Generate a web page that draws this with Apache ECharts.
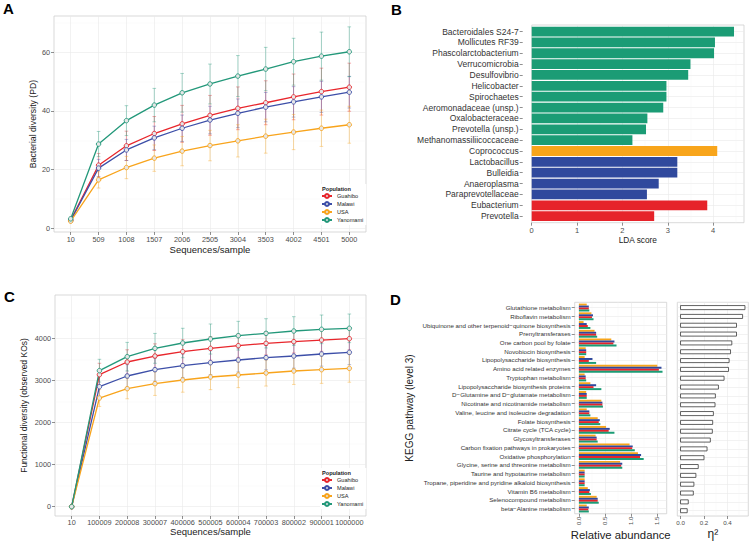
<!DOCTYPE html>
<html>
<head>
<meta charset="utf-8">
<script src="https://cdn.jsdelivr.net/npm/echarts@6/dist/echarts.min.js"></script>
<style>
  html, body { margin: 0; padding: 0; background: #fff; }
  #chart { width: 750px; height: 541px; }
</style>
</head>
<body>
<div id="chart"></div>
<script>
// ---- shared ----
const populations = ['Guahibo', 'Malawi', 'USA', 'Yanomami']
const lineColors = ['#e8262c', '#3d4fa8', '#f8a41c', '#23987a']
const barColors = { Guahibo: '#e6232a', Malawi: '#30499d', USA: '#f8a51b', Yanomami: '#1b9c75' }

// ---- A: phylogenetic diversity rarefaction ----
const seqA = ['10', '509', '1008', '1507', '2006', '2505', '3004', '3503', '4002', '4501', '5000']
const pdTicks = [0, 20, 40, 60]
const pdGuahibo = [2.8, 21.5, 28.1, 32.3, 35.6, 38.5, 40.9, 42.8, 44.8, 46.6, 48.1]
const pdMalawi = [2.6, 20.5, 26.7, 30.8, 34.1, 36.9, 39.2, 41.3, 43.1, 44.8, 46.4]
const pdUSA = [2.4, 16.5, 20.7, 23.9, 26.3, 28.2, 29.8, 31.4, 32.8, 34.1, 35.3]
const pdYanomami = [3.2, 28.7, 36.7, 42.0, 46.2, 49.2, 51.9, 54.3, 56.8, 58.7, 60.2]
const pdGuahiboSd = [0.4, 4.0, 5.0, 5.8, 6.3, 6.8, 7.3, 7.5, 7.8, 8.0, 8.2]
const pdMalawiSd = [0.4, 3.0, 3.6, 4.0, 4.5, 4.7, 4.9, 5.0, 5.2, 5.3, 5.4]
const pdUSASd = [0.4, 2.8, 3.8, 4.5, 5.0, 5.2, 5.5, 5.8, 6.0, 6.2, 6.3]
const pdYanomamiSd = [0.5, 4.3, 5.1, 5.7, 6.6, 6.8, 7.0, 7.4, 8.0, 8.2, 8.5]

// ---- B: LEfSe LDA scores ----
const ldaTaxa = ['Bacteroidales S24-7', 'Mollicutes RF39', 'Phascolarctobacterium', 'Verrucomicrobia',
  'Desulfovibrio', 'Helicobacter', 'Spirochaetes', 'Aeromonadaceae (unsp.)', 'Oxalobacteraceae',
  'Prevotella (unsp.)', 'Methanomassiliicoccaceae', 'Coprococcus', 'Lactobacillus', 'Bulleidia',
  'Anaeroplasma', 'Paraprevotellaceae', 'Eubacterium', 'Prevotella']
const ldaScores = [4.46, 4.04, 4.02, 3.50, 3.45, 2.97, 2.97, 2.90, 2.55, 2.52, 2.22, 4.09, 3.21, 3.21, 2.80, 2.54, 3.87, 2.70]
const ldaGroup = ['Yanomami', 'Yanomami', 'Yanomami', 'Yanomami', 'Yanomami', 'Yanomami', 'Yanomami',
  'Yanomami', 'Yanomami', 'Yanomami', 'Yanomami', 'USA', 'Malawi', 'Malawi', 'Malawi', 'Malawi',
  'Guahibo', 'Guahibo']
const ldaTicks = [0, 1, 2, 3, 4]

// ---- C: functional diversity rarefaction ----
const seqC = ['10', '100009', '200008', '300007', '400006', '500005', '600004', '700003', '800002', '900001', '1000000']
const koTicks = [0, 1000, 2000, 3000, 4000]
const koGuahibo = [0, 3137, 3438, 3580, 3683, 3762, 3826, 3881, 3921, 3960, 3992]
const koMalawi = [0, 2851, 3105, 3255, 3350, 3422, 3485, 3541, 3580, 3628, 3667]
const koUSA = [0, 2582, 2804, 2923, 3010, 3081, 3129, 3176, 3224, 3255, 3287]
const koYanomami = [0, 3232, 3564, 3762, 3889, 3984, 4063, 4119, 4174, 4214, 4238]
const koGuahiboSd = [0, 270, 290, 290, 285, 280, 278, 275, 270, 268, 265]
const koMalawiSd = [0, 250, 270, 275, 280, 285, 285, 288, 290, 290, 292]
const koUSASd = [0, 200, 240, 280, 290, 300, 300, 310, 320, 325, 330]
const koYanomamiSd = [0, 270, 340, 355, 350, 357, 341, 348, 341, 340, 340]

// ---- D: KEGG pathways ----
const keggPathways = ['Glutathione metabolism', 'Riboflavin metabolism',
  'Ubiquinone and other terpenoid\u2212quinone biosynthesis', 'Prenyltransferases',
  'One carbon pool by folate', 'Novobiocin biosynthesis', 'Lipopolysaccharide biosynthesis',
  'Amino acid related enzymes', 'Tryptophan metabolism', 'Lipopolysaccharide biosynthesis proteins',
  'D\u2212Glutamine and D\u2212glutamate metabolism', 'Nicotinate and nicotinamide metabolism',
  'Valine, leucine and isoleucine degradation', 'Folate biosynthesis', 'Citrate cycle (TCA cycle)',
  'Glycosyltransferases', 'Carbon fixation pathways in prokaryotes', 'Oxidative phosphorylation',
  'Glycine, serine and threonine metabolism', 'Taurine and hypotaurine metabolism',
  'Tropane, piperidine and pyridine alkaloid biosynthesis', 'Vitamin B6 metabolism',
  'Selenocompound metabolism', 'beta\u2212Alanine metabolism']
const abundUSA = [0.15, 0.24, 0.09, 0.30, 0.62, 0.13, 0.11, 1.50, 0.11, 0.22, 0.14, 0.43, 0.15, 0.36, 0.52, 0.32, 0.97, 1.13, 0.79, 0.11, 0.11, 0.17, 0.34, 0.15]
const abundMalawi = [0.19, 0.27, 0.15, 0.33, 0.68, 0.14, 0.26, 1.58, 0.13, 0.33, 0.15, 0.45, 0.20, 0.40, 0.59, 0.34, 1.03, 1.19, 0.83, 0.11, 0.11, 0.21, 0.36, 0.19]
const abundGuahibo = [0.19, 0.25, 0.17, 0.33, 0.66, 0.14, 0.19, 1.53, 0.13, 0.28, 0.15, 0.45, 0.20, 0.38, 0.57, 0.34, 1.02, 1.17, 0.81, 0.11, 0.11, 0.20, 0.36, 0.18]
const abundYanomami = [0.20, 0.28, 0.22, 0.35, 0.72, 0.14, 0.33, 1.60, 0.14, 0.43, 0.15, 0.46, 0.22, 0.41, 0.68, 0.36, 1.07, 1.24, 0.83, 0.11, 0.11, 0.23, 0.38, 0.19]
const abundTicks = [0, 0.5, 1, 1.5]
const etaSq = [0.549, 0.529, 0.477, 0.477, 0.437, 0.426, 0.414, 0.409, 0.371, 0.323, 0.297, 0.294, 0.280, 0.274, 0.271, 0.254, 0.226, 0.200, 0.151, 0.131, 0.114, 0.109, 0.066, 0.057]
const etaTicks = [0, 0.2, 0.4]

const font = '"Liberation Sans", Arial, sans-serif'
const labelGray = '#4d4d4d'

const chart = echarts.init(document.getElementById('chart'), null, { renderer: 'svg' })

const idx = (arr) => arr.map((_, i) => i)
const pickLabel = (names) => (v) => {
  const i = Math.round(v)
  return Math.abs(v - i) < 1e-6 && names[i] !== undefined ? names[i] : ''
}
const plain = (v) => String(v)

const gridStyle = { show: true, backgroundColor: '#fff', borderColor: '#cfcfcf', borderWidth: 0.8 }
const split = { show: true, lineStyle: { color: '#e9e9e9', width: 0.6 } }
const minorSplit = { show: true, lineStyle: { color: '#f5f5f5', width: 0.4 } }
const tick = (values, show = true) => ({ show, length: 3, customValues: values, lineStyle: { color: '#444', width: 0.6 } })
const noLine = { show: false, onZero: false }

// value axis used for discrete positions (ggplot style 0.6 expansion)
function discreteAxis (names, extra) {
  const n = names.length
  return Object.assign({
    type: 'value',
    min: -0.6,
    max: n - 0.4,
    splitNumber: n - 1,
    axisLine: noLine,
    axisTick: tick(idx(names)),
    axisLabel: { customValues: idx(names), formatter: pickLabel(names), fontFamily: font, color: labelGray },
    splitLine: split
  }, extra)
}

function contAxis (min, max, splitNumber, ticks, extra) {
  return Object.assign({
    type: 'value',
    min,
    max,
    splitNumber,
    axisLine: noLine,
    axisTick: tick(ticks),
    axisLabel: { customValues: ticks, formatter: plain, fontFamily: font, color: labelGray },
    splitLine: split,
    minorTick: { show: false, splitNumber: 2 },
    minorSplitLine: minorSplit
  }, extra)
}

function errorBar (params, api) {
  const lo = api.coord([api.value(0), api.value(1)])
  const hi = api.coord([api.value(0), api.value(2)])
  const w = 1.8
  const style = { stroke: api.visual('color'), lineWidth: 0.8 }
  return {
    type: 'group',
    children: [
      { type: 'line', shape: { x1: lo[0], y1: lo[1], x2: hi[0], y2: hi[1] }, style },
      { type: 'line', shape: { x1: lo[0] - w, y1: lo[1], x2: lo[0] + w, y2: lo[1] }, style },
      { type: 'line', shape: { x1: hi[0] - w, y1: hi[1], x2: hi[0] + w, y2: hi[1] }, style }
    ]
  }
}

function hexAlpha (hex, a) {
  const n = parseInt(hex.slice(1), 16)
  return 'rgba(' + (n >> 16) + ',' + ((n >> 8) & 255) + ',' + (n & 255) + ',' + a + ')'
}

// rarefaction panel series (lines + error bars)
function rarefaction (means, sds, axisIndex) {
  const lines = means.map((m, k) => ({
    name: populations[k],
    type: 'line',
    xAxisIndex: axisIndex,
    yAxisIndex: axisIndex,
    data: m.map((v, i) => [i, v]),
    symbol: 'circle',
    symbolSize: 4.5,
    z: 3,
    lineStyle: { color: lineColors[k], width: 1.3 },
    itemStyle: { color: '#e6e6e6', borderColor: lineColors[k], borderWidth: 0.9 }
  }))
  const bars = means.map((m, k) => ({
    name: populations[k] + ' sd',
    type: 'custom',
    xAxisIndex: axisIndex,
    yAxisIndex: axisIndex,
    renderItem: errorBar,
    itemStyle: { color: hexAlpha(lineColors[k], 0.5) },
    encode: { x: 0, y: [1, 2] },
    z: 2,
    data: m.map((v, i) => [i, v - sds[k][i], v + sds[k][i]])
  }))
  return bars.concat(lines)
}

// B bars, one series per population
const ldaSeries = populations.map(p => ({
  name: 'LDA ' + p,
  type: 'custom',
  xAxisIndex: 1,
  yAxisIndex: 1,
  itemStyle: { color: barColors[p] },
  encode: { x: 0, y: 1 },
  data: ldaScores.map((v, i) => [v, i]).filter((d, i) => ldaGroup[i] === p),
  renderItem (params, api) {
    const i = api.value(1)
    const a = api.coord([0, i - 0.45])
    const b = api.coord([api.value(0), i + 0.45])
    return {
      type: 'rect',
      shape: { x: a[0], y: Math.min(a[1], b[1]), width: b[0] - a[0], height: Math.abs(b[1] - a[1]) },
      style: { fill: api.visual('color') }
    }
  }
}))

// D dodged bars: USA, Malawi, Guahibo, Yanomami from top to bottom
const dodgeOrder = ['USA', 'Malawi', 'Guahibo', 'Yanomami']
const dodgeData = { USA: abundUSA, Malawi: abundMalawi, Guahibo: abundGuahibo, Yanomami: abundYanomami }
const keggSeries = dodgeOrder.map((p, k) => ({
  name: 'KEGG ' + p,
  type: 'custom',
  xAxisIndex: 3,
  yAxisIndex: 3,
  itemStyle: { color: barColors[p] },
  encode: { x: 0, y: 1 },
  data: dodgeData[p].map((v, i) => [v, i]),
  renderItem (params, api) {
    const i = api.value(1)
    const a = api.coord([0, i - 0.45 + 0.225 * k])
    const b = api.coord([api.value(0), i - 0.45 + 0.225 * (k + 1)])
    return {
      type: 'rect',
      shape: { x: a[0], y: Math.min(a[1], b[1]), width: b[0] - a[0], height: Math.abs(b[1] - a[1]) },
      style: { fill: api.visual('color') }
    }
  }
}))

const etaSeries = {
  name: 'eta squared',
  type: 'custom',
  xAxisIndex: 4,
  yAxisIndex: 4,
  encode: { x: 0, y: 1 },
  data: etaSq.map((v, i) => [v, i]),
  renderItem (params, api) {
    const i = api.value(1)
    const a = api.coord([0, i - 0.23])
    const b = api.coord([api.value(0), i + 0.23])
    return {
      type: 'rect',
      shape: { x: a[0], y: Math.min(a[1], b[1]), width: b[0] - a[0], height: Math.abs(b[1] - a[1]) },
      style: { fill: '#fff', stroke: '#3a3a3a', lineWidth: 0.8 }
    }
  }
}

const legendBase = {
  orient: 'vertical',
  itemWidth: 10,
  itemHeight: 5,
  itemGap: 2,
  backgroundColor: '#fff',
  padding: [9, 3, 2, 1],
  selectedMode: false,
  textStyle: { fontFamily: font, fontSize: 5.6, color: '#222', lineHeight: 6 },
  data: populations
}

const letter = (text, x, y) => ({
  type: 'text', x, y, z: 100,
  style: { text, font: 'bold 15px ' + font, fill: '#000', textVerticalAlign: 'top' }
})
const legendTitle = (x, y) => ({
  type: 'text', x, y, z: 100,
  style: { text: 'Population', font: 'bold 5.6px ' + font, fill: '#222', textVerticalAlign: 'middle' }
})

chart.setOption({
  animation: false,
  backgroundColor: '#fff',
  textStyle: { fontFamily: font },
  grid: [
    Object.assign({ left: 54, top: 16, width: 312, height: 216 }, gridStyle),
    Object.assign({ left: 531.7, top: 25, width: 212.3, height: 197.7 }, gridStyle),
    Object.assign({ left: 55, top: 295, width: 311, height: 221 }, gridStyle),
    Object.assign({ left: 574.7, top: 302.3, width: 92, height: 214.4 }, gridStyle),
    Object.assign({ left: 677.3, top: 302.3, width: 71, height: 214.4 }, gridStyle)
  ],
  xAxis: [
    discreteAxis(seqA, {
      gridIndex: 0,
      name: 'Sequences/sample', nameLocation: 'middle', nameGap: 12,
      nameTextStyle: { fontFamily: font, fontSize: 9.5, color: '#222' },
      axisLabel: { customValues: idx(seqA), formatter: pickLabel(seqA), fontFamily: font, fontSize: 7.3, color: labelGray, margin: 4 }
    }),
    contAxis(0, 4.68, 5, ldaTicks, {
      gridIndex: 1,
      name: 'LDA score', nameLocation: 'middle', nameGap: 13,
      nameTextStyle: { fontFamily: font, fontSize: 8.3, color: '#222' },
      axisLabel: { customValues: ldaTicks, formatter: plain, fontFamily: font, fontSize: 7.5, color: labelGray, margin: 4 }
    }),
    discreteAxis(seqC, {
      gridIndex: 2,
      name: 'Sequences/sample', nameLocation: 'middle', nameGap: 8,
      nameTextStyle: { fontFamily: font, fontSize: 9.5, color: '#222' },
      axisLabel: { customValues: idx(seqC), formatter: pickLabel(seqC), fontFamily: font, fontSize: 7.3, color: labelGray, margin: 3 }
    }),
    contAxis(-0.08, 1.68, 4, abundTicks, {
      gridIndex: 3,
      name: 'Relative abundance', nameLocation: 'middle', nameGap: 12,
      nameTextStyle: { fontFamily: font, fontSize: 11.3, color: '#222' },
      axisLabel: { customValues: abundTicks, formatter: v => v.toFixed(1), rotate: 90, fontFamily: font, fontSize: 6, color: labelGray, margin: 3 }
    }),
    contAxis(-0.0275, 0.5775, 3, etaTicks, {
      gridIndex: 4,
      name: '\u03b7\u00b2', nameLocation: 'middle', nameGap: 12,
      nameTextStyle: { fontFamily: font, fontSize: 12, color: '#222' },
      axisLabel: { customValues: etaTicks, formatter: v => v.toFixed(1), fontFamily: font, fontSize: 6.2, color: labelGray, margin: 3 }
    })
  ],
  yAxis: [
    contAxis(-1.3, 72.4, 4, pdTicks, {
      gridIndex: 0,
      name: 'Bacterial diversity (PD)', nameLocation: 'middle', nameGap: 17,
      nameTextStyle: { fontFamily: font, fontSize: 8.7, color: '#222' },
      axisLabel: { customValues: pdTicks, formatter: plain, fontFamily: font, fontSize: 7.3, color: labelGray, margin: 4 }
    }),
    discreteAxis(ldaTaxa, {
      gridIndex: 1,
      inverse: true,
      offset: 9,
      axisLabel: { customValues: idx(ldaTaxa), formatter: pickLabel(ldaTaxa), fontFamily: font, fontSize: 8.5, color: '#333', margin: 4 }
    }),
    contAxis(-222, 5030, 5, koTicks, {
      gridIndex: 2,
      name: 'Functional diversity (observed KOs)', nameLocation: 'middle', nameGap: 27,
      nameTextStyle: { fontFamily: font, fontSize: 8.5, color: '#222' },
      axisLabel: { customValues: koTicks, formatter: plain, fontFamily: font, fontSize: 7.3, color: labelGray, margin: 4 }
    }),
    discreteAxis(keggPathways, {
      gridIndex: 3,
      inverse: true,
      name: 'KEGG pathway (level 3)', nameLocation: 'middle', nameGap: 160,
      nameTextStyle: { fontFamily: font, fontSize: 10, color: '#222' },
      axisLabel: { customValues: idx(keggPathways), formatter: pickLabel(keggPathways), fontFamily: font, fontSize: 6.2, color: '#333', margin: 4 }
    }),
    discreteAxis(keggPathways, {
      gridIndex: 4,
      inverse: true,
      axisTick: { show: false },
      axisLabel: { show: false }
    })
  ],
  legend: [
    Object.assign({ left: 320, top: 184 }, legendBase),
    Object.assign({ left: 320, top: 468 }, legendBase)
  ],
  graphic: [
    letter('A', 3, 1),
    letter('B', 391, 2),
    letter('C', 4, 289),
    letter('D', 390, 292),
    legendTitle(322, 189),
    legendTitle(322, 473)
  ],
  series: [].concat(
    rarefaction([pdGuahibo, pdMalawi, pdUSA, pdYanomami], [pdGuahiboSd, pdMalawiSd, pdUSASd, pdYanomamiSd], 0),
    rarefaction([koGuahibo, koMalawi, koUSA, koYanomami], [koGuahiboSd, koMalawiSd, koUSASd, koYanomamiSd], 2),
    ldaSeries,
    keggSeries,
    [etaSeries]
  )
})
</script>
</body>
</html>
